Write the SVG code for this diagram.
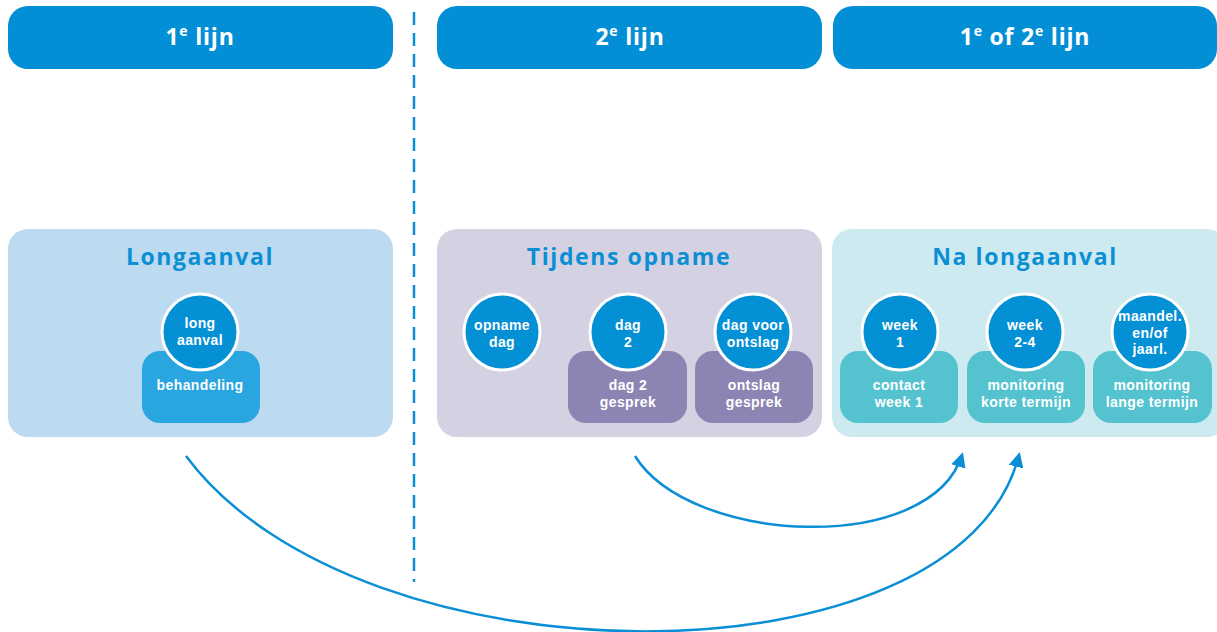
<svg xmlns="http://www.w3.org/2000/svg" width="1217" height="632" viewBox="0 0 1217 632">
<style>
.hdr{fill:#038fd6}
.ht{font-family:"Open Sans","Liberation Sans",sans-serif;font-weight:700;font-size:23px;fill:#fff;text-anchor:middle;letter-spacing:0.8px}
.sup{font-size:14px}
.pt{font-family:"Open Sans","Liberation Sans",sans-serif;font-weight:700;font-size:23px;fill:#0b8fd4;text-anchor:middle;letter-spacing:1.6px}
.circ{fill:#0490d5;stroke:#fff;stroke-width:3}
.t{font-family:"Liberation Sans",Arial,sans-serif;font-weight:700;font-size:14px;fill:#fff;text-anchor:middle;letter-spacing:0.4px}
.conn{fill:none;stroke:#0a8fd6;stroke-width:2.5}
</style>
<defs>
<marker id="ah" viewBox="0 0 10 10" refX="8" refY="5" markerWidth="6" markerHeight="6" markerUnits="strokeWidth" orient="auto">
<path d="M0,0 L10,5 L0,10 z" fill="#0a8fd6"/>
</marker>
</defs>
<rect width="1217" height="632" fill="#fff"/>

<g id="hdr1"><rect class="hdr" x="8" y="6" width="385" height="63" rx="20"/><text class="ht" x="200" y="45">1<tspan class="sup" dy="-9">e</tspan><tspan dy="9"> lijn</tspan></text></g>
<g id="hdr2"><rect class="hdr" x="437" y="6" width="385" height="63" rx="20"/><text class="ht" x="630" y="45">2<tspan class="sup" dy="-9">e</tspan><tspan dy="9"> lijn</tspan></text></g>
<g id="hdr3"><rect class="hdr" x="833" y="6" width="384" height="63" rx="20"/><text class="ht" x="1025" y="45">1<tspan class="sup" dy="-9">e</tspan><tspan dy="9"> of 2</tspan><tspan class="sup" dy="-9">e</tspan><tspan dy="9"> lijn</tspan></text></g>

<g id="divider"><line x1="414" y1="12" x2="414" y2="582" stroke="#0a8fd6" stroke-width="2.5" stroke-dasharray="13 8"/></g>

<g id="panel-longaanval">
<rect x="8" y="229" width="385" height="208" rx="20" fill="#bcdaf0"/>
<text class="pt" x="200" y="265">Longaanval</text>
</g>
<g id="node-behandeling">
<rect x="142" y="351" width="118" height="72" rx="18" fill="#29a5df"/>
<text class="t" x="200" y="390">behandeling</text>
</g>
<g id="node-longaanval">
<circle class="circ" cx="200" cy="332" r="38"/>
<text class="t" x="200" y="328">long<tspan x="200" dy="16.5">aanval</tspan></text>
</g>

<g id="panel-opname">
<rect x="437" y="229" width="385" height="208" rx="20" fill="#d4d1e3"/>
<text class="pt" x="629" y="265">Tijdens opname</text>
</g>
<g id="node-opnamedag">
<circle class="circ" cx="502" cy="332" r="38"/>
<text class="t" x="502" y="330">opname<tspan x="502" dy="16.5">dag</tspan></text>
</g>
<g id="node-dag2gesprek">
<rect x="568" y="351" width="119" height="72" rx="18" fill="#8c84b2"/>
<text class="t" x="628" y="390">dag 2<tspan x="628" dy="16.5">gesprek</tspan></text>
</g>
<g id="node-dag2">
<circle class="circ" cx="628" cy="332" r="38"/>
<text class="t" x="628" y="330">dag<tspan x="628" dy="16.5">2</tspan></text>
</g>
<g id="node-ontslaggesprek">
<rect x="695" y="351" width="118" height="72" rx="18" fill="#8c84b2"/>
<text class="t" x="754" y="390">ontslag<tspan x="754" dy="16.5">gesprek</tspan></text>
</g>
<g id="node-dagvoorontslag">
<circle class="circ" cx="753" cy="332" r="38"/>
<text class="t" x="753" y="330">dag voor<tspan x="753" dy="16.5">ontslag</tspan></text>
</g>

<g id="panel-na">
<rect x="832" y="229" width="395" height="208" rx="20" fill="#cdeaf0"/>
<text class="pt" x="1025" y="265">Na longaanval</text>
</g>
<g id="node-contact">
<rect x="840" y="351" width="118" height="72" rx="18" fill="#54c3cf"/>
<text class="t" x="899" y="390">contact<tspan x="899" dy="16.5">week 1</tspan></text>
</g>
<g id="node-week1">
<circle class="circ" cx="900" cy="332" r="38"/>
<text class="t" x="900" y="330">week<tspan x="900" dy="16.5">1</tspan></text>
</g>
<g id="node-korte">
<rect x="967" y="351" width="118" height="72" rx="18" fill="#54c3cf"/>
<text class="t" x="1026" y="390">monitoring<tspan x="1026" dy="16.5">korte termijn</tspan></text>
</g>
<g id="node-week24">
<circle class="circ" cx="1025" cy="332" r="38"/>
<text class="t" x="1025" y="330">week<tspan x="1025" dy="16.5">2-4</tspan></text>
</g>
<g id="node-lange">
<rect x="1093" y="351" width="119" height="72" rx="18" fill="#54c3cf"/>
<text class="t" x="1152" y="390">monitoring<tspan x="1152" dy="16.5">lange termijn</tspan></text>
</g>
<g id="node-maandel">
<circle class="circ" cx="1150" cy="332" r="38"/>
<text class="t" x="1150" y="321">maandel.<tspan x="1150" dy="16.5">en/of</tspan><tspan x="1150" dy="16.5">jaarl.</tspan></text>
</g>

<g id="connectors">
<path class="conn" d="M635,456 C690,545 930,556 962,455" marker-end="url(#ah)"/>
<path class="conn" d="M186,456 C360,690 960,690 1019,455" marker-end="url(#ah)"/>
</g>
</svg>
